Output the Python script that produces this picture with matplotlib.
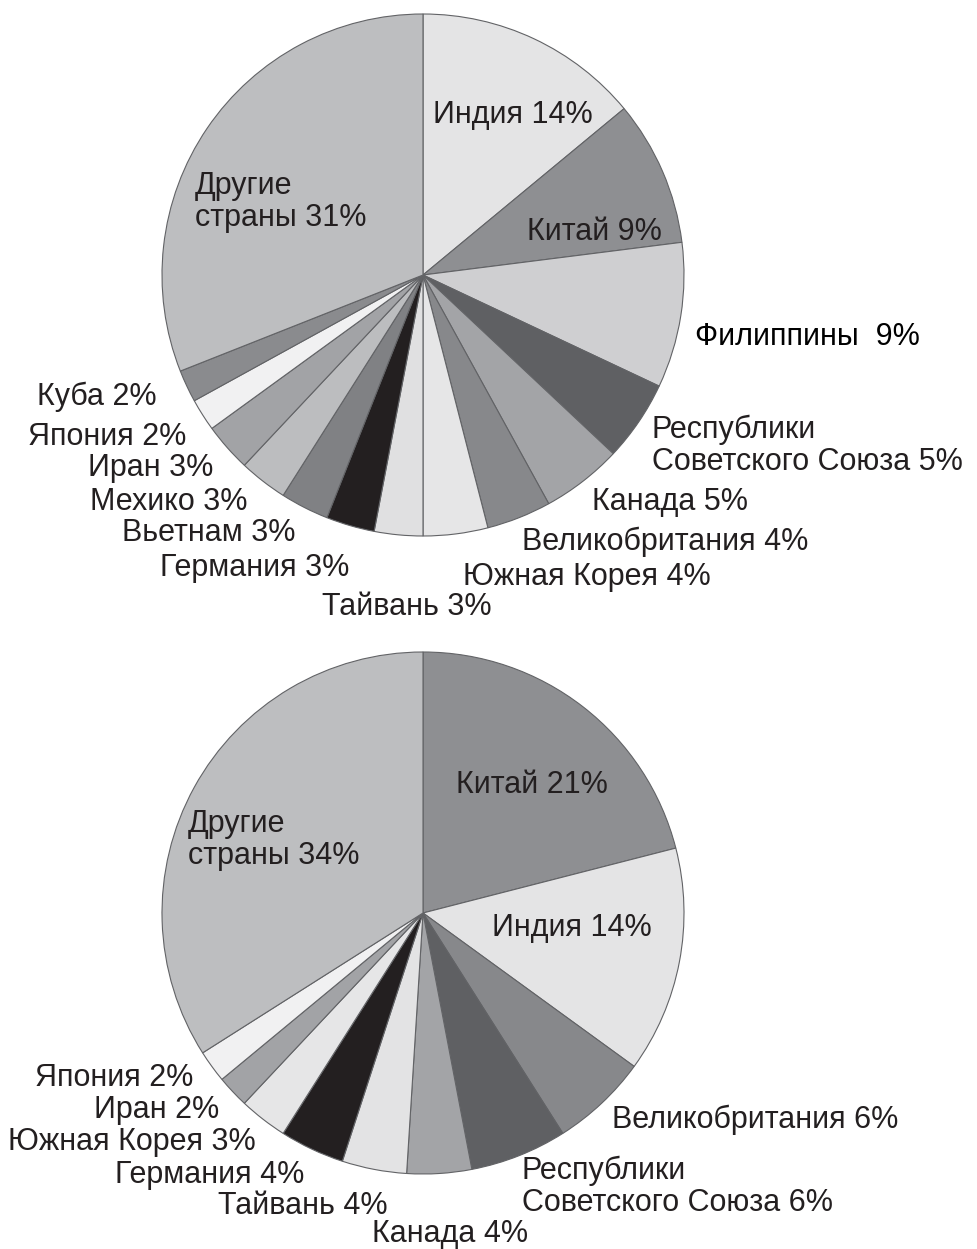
import matplotlib
matplotlib.use("Agg")
import matplotlib.pyplot as plt

plt.rcParams['font.family'] = ['Liberation Sans', 'DejaVu Sans']

# Upper chart: shares of immigrants by country (clockwise from 12 o'clock)
top_countries = ["Индия", "Китай", "Филиппины", "Республики\nСоветского Союза", "Канада",
                 "Великобритания", "Южная Корея", "Тайвань", "Германия", "Вьетнам",
                 "Мехико", "Иран", "Япония", "Куба", "Другие\nстраны"]
top_shares = [14, 9, 9, 5, 5, 4, 4, 3, 3, 3, 3, 3, 2, 2, 31]
top_colors = ["#e4e4e5", "#8e8f92", "#cfcfd1", "#5f6063", "#a3a4a7",
              "#87888b", "#e6e6e7", "#e0e0e1", "#231f20", "#808184",
              "#bcbdbf", "#a2a3a6", "#f1f1f2", "#8a8b8e", "#bdbec0"]

# Lower chart
bot_countries = ["Китай", "Индия", "Великобритания", "Республики\nСоветского Союза", "Канада",
                 "Тайвань", "Германия", "Южная Корея", "Иран", "Япония", "Другие\nстраны"]
bot_shares = [21, 14, 6, 6, 4, 4, 4, 3, 2, 2, 34]
bot_colors = ["#8e8f92", "#e4e4e5", "#87888b", "#5f6063", "#a3a4a7",
              "#e3e3e4", "#231f20", "#e6e6e7", "#a2a3a6", "#f1f1f2", "#bdbec0"]

# label anchors (left edge, vertical centre) in pixels from the top-left corner
top_label_xy = [(433, 115), (527, 232), (695, 337), (652, 446), (592, 502),
                (522, 542), (463, 577), (322, 607), (160, 568), (122, 533),
                (90, 502), (88, 468), (28, 437), (37, 397), (195, 202)]
bot_label_xy = [(456, 785), (492, 928), (612, 1120), (522, 1187), (372, 1234),
                (218, 1206), (115, 1175), (8, 1142), (94, 1110), (35, 1078), (188, 840)]

W, H = 977, 1249
fig = plt.figure(figsize=(W / 100, H / 100), dpi=100)
ax = fig.add_axes([0, 0, 1, 1])


def draw(shares, colors, names, label_xy, cx, cy, r):
    ax.pie(shares, colors=colors, center=(cx, H - cy), radius=r,
           startangle=90, counterclock=False, frame=True,
           wedgeprops=dict(edgecolor="#626366", linewidth=0.8))
    for name, val, (x, y) in zip(names, shares, label_xy):
        color = "#231f20"
        txt = f"{name} {val}%"
        if name == "Филиппины":
            txt = f"{name}  {val}%"
            color = "black"
        ax.text(x, H - y, txt, ha='left', va='center', fontsize=22,
                color=color, linespacing=1.08)


draw(top_shares, top_colors, top_countries, top_label_xy, 423, 275, 261)
draw(bot_shares, bot_colors, bot_countries, bot_label_xy, 423, 913, 261)

ax.set_xlim(0, W)
ax.set_ylim(0, H)
ax.set_aspect('auto')
ax.axis('off')

fig.savefig("out.png", dpi=100)
